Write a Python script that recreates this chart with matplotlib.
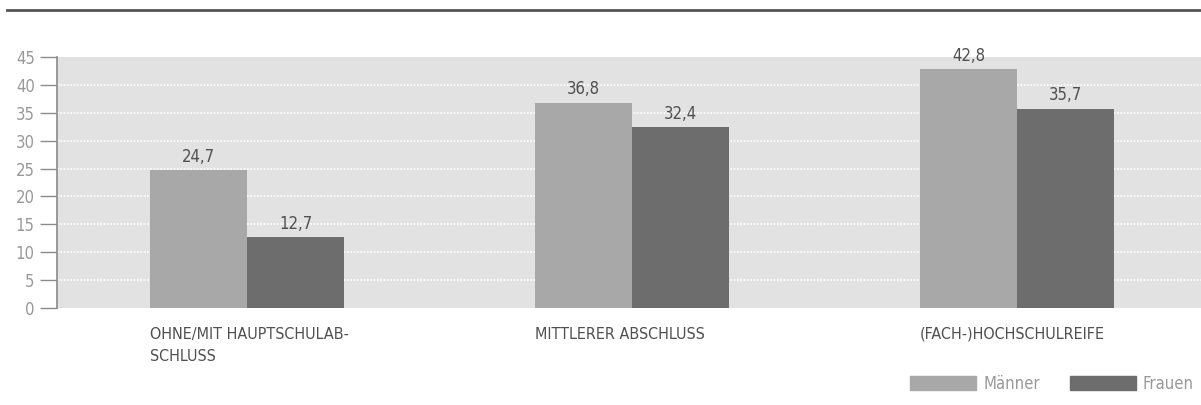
import numpy as np
import matplotlib
matplotlib.use("Agg")
import matplotlib.pyplot as plt
from matplotlib.patches import Patch
from matplotlib.lines import Line2D

plt.rcParams['font.family'] = ['DejaVu Sans']
plt.rcParams['font.stretch'] = 'condensed'

# data
categories = ["OHNE/MIT HAUPTSCHULAB-\nSCHLUSS", "MITTLERER ABSCHLUSS", "(FACH-)HOCHSCHULREIFE"]
maenner = [24.7, 36.8, 42.8]
frauen = [12.7, 32.4, 35.7]
series_names = ["Männer", "Frauen"]
yticks = [0, 5, 10, 15, 20, 25, 30, 35, 40, 45]

C_M = "#a8a8a8"
C_F = "#6d6d6d"
TXT = "#505050"

fig = plt.figure(figsize=(12.01, 4.05), dpi=100)
ax = fig.add_axes([57 / 1201, 1 - 308 / 405, 1 - 57 / 1201, (308 - 57) / 405])
ax.set_facecolor("#e2e2e2")

x = np.arange(len(categories))
w = 0.252
b1 = ax.bar(x - w / 2, maenner, w, color=C_M, zorder=3)
b2 = ax.bar(x + w / 2, frauen, w, color=C_F, zorder=3)

# value labels with german decimal comma
for bars, vals in [(b1, maenner), (b2, frauen)]:
    for r, v in zip(bars, vals):
        ax.text(r.get_x() + r.get_width() / 2, v + 0.8, f"{v:.1f}".replace(".", ","),
                ha="center", va="bottom", fontsize=12, color=TXT, zorder=4)

ax.set_xlim(-0.494, 2.478)
ax.set_ylim(0, 45)
ax.set_yticks(yticks)
ax.tick_params(axis="y", length=12, width=1, color="#8a8a8a", labelcolor="#999999",
               labelsize=12, pad=4, direction="out")
ax.set_xticks([])
for yv in yticks[1:-1]:
    ax.axhline(yv, color="white", linestyle=(0, (1, 1)), linewidth=1.2, zorder=1)
for s in ["top", "right", "bottom"]:
    ax.spines[s].set_visible(False)
ax.spines["left"].set_color("#8a8a8a")
ax.spines["left"].set_linewidth(1.2)

# category labels, left aligned at the first bar
for xi, c in zip(x, categories):
    ax.text(xi - w, -3.4, c, ha="left", va="top", fontsize=11.5, color=TXT,
            linespacing=1.6, clip_on=False)

# legend
handles = [Patch(color=C_M, label=series_names[0]), Patch(color=C_F, label=series_names[1])]
fig.legend(handles=handles, loc="lower right", bbox_to_anchor=(1194 / 1201, 1 - 393 / 405), ncol=2,
           frameon=False, fontsize=12, handlelength=4.0, handleheight=0.9,
           columnspacing=1.8, handletextpad=0.4, borderpad=0, borderaxespad=0,
           labelcolor="#999999")

# top rule
fig.add_artist(Line2D([7 / 1201, 1.0], [1 - 10 / 405, 1 - 10 / 405], color="#555555", linewidth=2))

fig.savefig("out.png", dpi=100)
